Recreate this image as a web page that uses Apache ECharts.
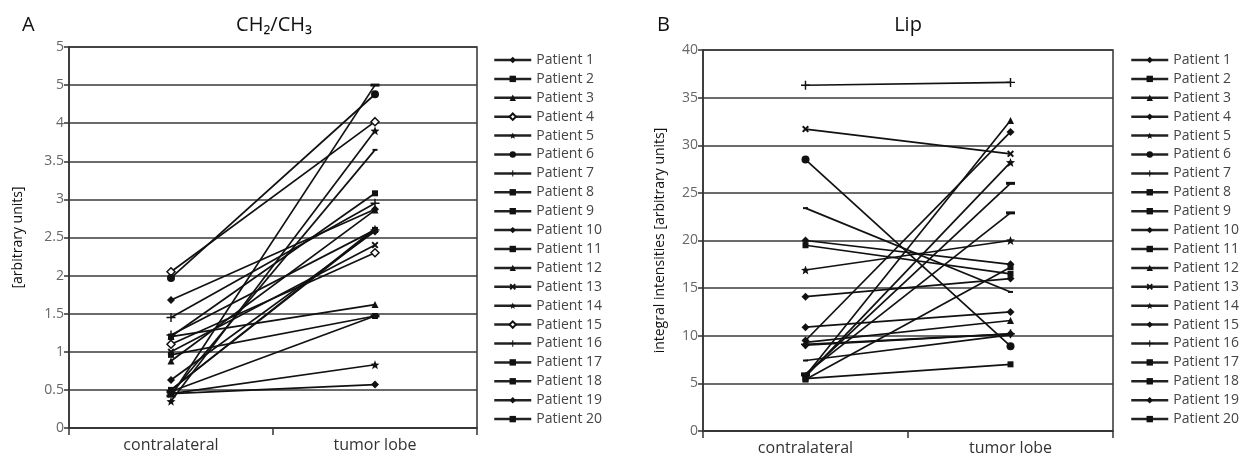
<!DOCTYPE html>
<html>
<head>
<meta charset="utf-8">
<script src="https://cdn.jsdelivr.net/npm/echarts@6/dist/echarts.min.js"></script>
<style>
html,body{margin:0;padding:0;background:#fff;}
#chart{width:1248px;height:456px;}
</style>
</head>
<body>
<div id="chart"></div>
<script>
const categories = ['contralateral', 'tumor lobe'];
const patients = ['Patient 1','Patient 2','Patient 3','Patient 4','Patient 5','Patient 6','Patient 7','Patient 8','Patient 9','Patient 10',
  'Patient 11','Patient 12','Patient 13','Patient 14','Patient 15','Patient 16','Patient 17','Patient 18','Patient 19','Patient 20'];

// Panel A: CH2/CH3
const ch2ch3Contra = [1.68,1.20,1.20,2.05,0.35,1.97,1.45,0.45,0.42,0.45,0.96,0.88,1.00,0.45,1.10,1.22,0.50,0.48,0.63,0.50];
const ch2ch3Tumor  = [2.87,3.08,1.62,4.02,3.90,4.38,2.95,3.65,4.50,0.57,1.47,2.86,2.40,0.83,2.30,2.60,2.62,1.47,2.58,2.60];
const yLabelsA = ['0','0.5','1','1.5','2','2.5','3','3.5','4','5','5'];

// Panel B: Lip
const lipContra = [10.9,5.5,5.8,9.5,16.9,28.5,36.3,23.4,5.9,14.1,19.5,9.3,31.7,5.7,20.0,9.1,7.4,6.0,9.0,5.4];
const lipTumor  = [12.5,7.0,32.6,31.4,20.0,8.9,36.6,14.6,26.0,16.0,16.5,11.6,29.1,28.2,17.5,10.2,10.1,22.9,10.2,17.2];
const yLabelsB = ['0','5','10','15','20','25','30','35','40'];

const STAR = 'path://M50,0 L63,33 L98,35 L71,57 L80,92 L50,72 L20,92 L29,57 L2,35 L37,33 Z';
const XMARK = 'path://M0,2 L2,0 L5,3 L8,0 L10,2 L7,5 L10,8 L8,10 L5,7 L2,10 L0,8 L3,5 Z';
const PLUS = 'path://M4.2,0 H5.8 V4.2 H10 V5.8 H5.8 V10 H4.2 V5.8 H0 V4.2 H4.2 Z';
const DASH = 'path://M0,0 H10 V2 H0 Z';

const markers = [
  {s:'diamond', z:8},            // 1
  {s:'rect', z:6},               // 2
  {s:'triangle', z:7},           // 3
  {s:'diamond', z:8, open:true}, // 4
  {s:STAR, z:9},                 // 5
  {s:'circle', z:8},             // 6
  {s:PLUS, z:9},                 // 7
  {s:DASH, z:[5,2]},             // 8
  {s:DASH, z:[9,3]},             // 9
  {s:'diamond', z:8},            // 10
  {s:'rect', z:6},               // 11
  {s:'triangle', z:7},           // 12
  {s:XMARK, z:7},                // 13
  {s:STAR, z:9},                 // 14
  {s:'diamond', z:8, open:true}, // 15
  {s:PLUS, z:9},                 // 16
  {s:DASH, z:[5,2]},             // 17
  {s:DASH, z:[9,3]},             // 18
  {s:'diamond', z:8},            // 19
  {s:'rect', z:6}                // 20
];

function marker(i, panel) {
  const t = markers[i];
  const open = t.open && panel === 0;
  return {
    symbol: t.s, symbolSize: t.z,
    itemStyle: open ? {color:'#fff', borderColor:'#111', borderWidth:1.5} : {color:'#111', borderColor:'#111', borderWidth:0}
  };
}

const FONT = 'Open Sans';
const series = [];
function addSeries(panel, names, contra, tumor) {
  names.forEach((p, i) => {
    const m = marker(i, panel);
    series.push({
      type:'line', name:p, xAxisIndex:panel, yAxisIndex:panel,
      data:[contra[i], tumor[i]],
      symbol:m.symbol, symbolSize:m.symbolSize, showSymbol:true,
      lineStyle:{color:'#111', width:1.7}, itemStyle:m.itemStyle,
      emphasis:{disabled:true}, animation:false
    });
  });
}
addSeries(0, patients, ch2ch3Contra, ch2ch3Tumor);
addSeries(1, patients.map(p => p + ' '), lipContra, lipTumor);

function xAx(gi) {
  return {
    type:'category', gridIndex:gi, data:categories, boundaryGap:true,
    axisLine:{show:true, lineStyle:{color:'#333', width:1.5}},
    axisTick:{show:true, length:7, lineStyle:{color:'#333', width:1.5}},
    axisLabel:{color:'#333', fontFamily:FONT, fontSize:16, margin:9},
    splitLine:{show:false}
  };
}
function yAx(gi, min, max, interval, labels, name, gap) {
  return {
    type:'value', gridIndex:gi, min:min, max:max, interval:interval,
    name:name, nameLocation:'middle', nameGap:gap, nameRotate:90,
    nameTextStyle:{color:'#111', fontFamily:FONT, fontSize:14},
    axisLine:{show:true, lineStyle:{color:'#333', width:1.5}},
    axisTick:{show:true, length:5, lineStyle:{color:'#333', width:1.5}},
    axisLabel:{color:'#666', fontFamily:FONT, fontSize:14, margin:5,
      formatter:(v) => labels[Math.round((v - min) / interval)]},
    splitLine:{show:true, lineStyle:{color:'#3a3a3a', width:1.5}}
  };
}

const legendCommon = {
  orient:'vertical', itemWidth:37, itemHeight:8, itemGap:4.9, height:420,
  textStyle:{color:'#444', fontFamily:FONT, fontSize:14},
  lineStyle:{width:2.5, color:'#222'},
  selectedMode:false, formatter:(n) => n.trim()
};

const titleStyle = {fontFamily:FONT, fontSize:20, fontWeight:'normal', color:'#111'};
const option = {
  backgroundColor:'#fff',
  animation:false,
  title:[
    {text:'A', left:17, top:10, textStyle:titleStyle},
    {text:'CH₂/CH₃', left:269, top:10, textAlign:'center', textStyle:titleStyle},
    {text:'B', left:652, top:10, textStyle:titleStyle},
    {text:'Lip', left:903, top:10, textAlign:'center', textStyle:titleStyle}
  ],
  grid:[
    {left:69, top:47, width:408, height:381, show:true, borderColor:'#333', borderWidth:1.5, backgroundColor:'transparent'},
    {left:703, top:50, width:410, height:381, show:true, borderColor:'#333', borderWidth:1.5, backgroundColor:'transparent'}
  ],
  xAxis:[xAx(0), xAx(1)],
  yAxis:[
    yAx(0, 0, 5, 0.5, yLabelsA, '[arbitrary units]', 44),
    yAx(1, 0, 40, 5, yLabelsB, 'integral intensities [arbitrary units]', 36)
  ],
  legend:[
    Object.assign({}, legendCommon, {left:488, top:48, data:patients}),
    Object.assign({}, legendCommon, {left:1125, top:48, data:patients.map(p => p + ' ')})
  ],
  series:series
};

const chart = echarts.init(document.getElementById('chart'), null, {renderer:'canvas'});
chart.setOption(option);
</script>
</body>
</html>
